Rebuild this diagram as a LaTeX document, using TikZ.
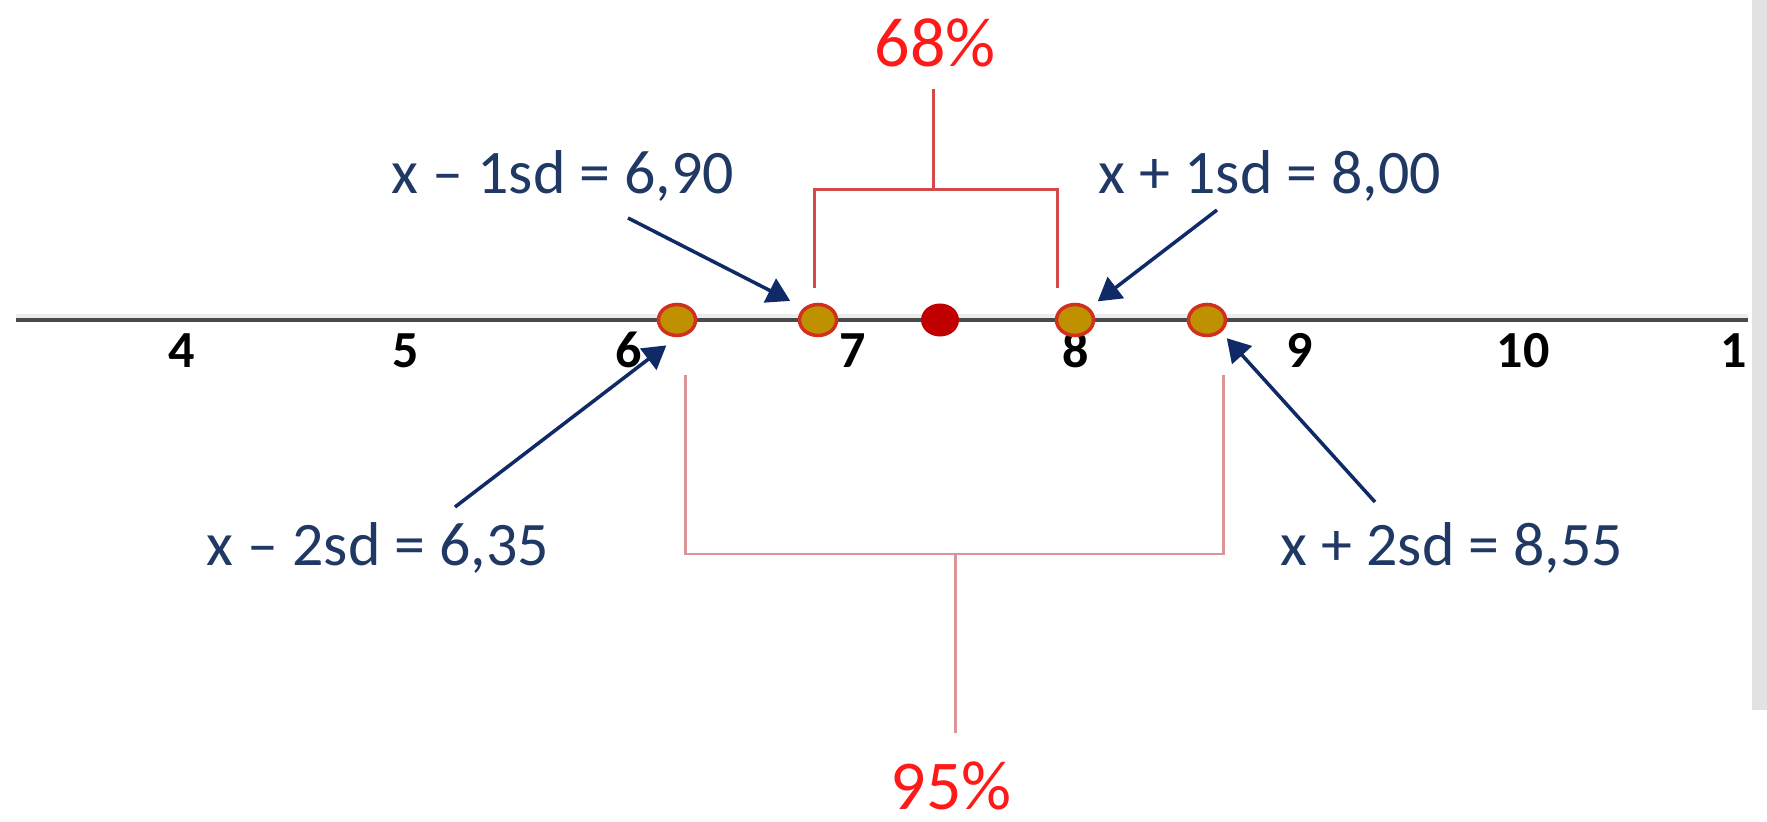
\documentclass[tikz,border=0pt]{standalone}
\usepackage{fontspec}
\setmainfont{Carlito}
\usepackage{tikz}
\usetikzlibrary{arrows.meta,shapes.geometric}
\definecolor{AxisDark}{HTML}{4A4A4A}
\definecolor{AxisShade}{HTML}{ECECEC}
\definecolor{DotGold}{HTML}{BF9000}
\definecolor{DotRim}{HTML}{D2301E}
\definecolor{MeanRed}{HTML}{C00000}
\definecolor{LabelNavy}{HTML}{1F3864}
\definecolor{ArrowNavy}{HTML}{0F2A66}
\definecolor{BracketRed}{HTML}{D24A4A}
\definecolor{BracketPink}{HTML}{DA9598}
\definecolor{PctRed}{HTML}{FF1A1A}
\definecolor{SideGray}{HTML}{E2E2E2}

\begin{document}
\begin{tikzpicture}[
    x=0.01cm, y=-0.01cm,
    golddot/.style={ellipse, draw=DotRim, fill=DotGold, line width=1pt,
      inner sep=0pt, minimum width=0.37cm, minimum height=0.31cm},
    meandot/.style={ellipse, fill=MeanRed, inner sep=0pt,
      minimum width=0.38cm, minimum height=0.33cm},
    sdlabel/.style={text=LabelNavy, anchor=base, inner sep=0pt,
      font=\fontsize{17.6}{20}\selectfont},
    ticklabel/.style={anchor=base, inner sep=0pt,
      font=\fontsize{14.8}{17}\selectfont\bfseries},
    pctlabel/.style={text=PctRed, anchor=base, inner sep=0pt,
      font=\fontsize{19.9}{23}\selectfont},
    sdarrow/.style={draw=ArrowNavy, line width=1pt,
      -{Triangle[length=6.5pt,width=7.5pt]}},
    bracket/.style={line width=0.85pt}
  ]
    \useasboundingbox (0,0) rectangle (1767,822);
    \fill[SideGray] (1752,0) rectangle (1767,710);

    % number line
    \coordinate (axL) at (16,320);
    \coordinate (axR) at (1748,320);
    \draw[AxisShade, line width=1.1pt] ([yshift=0.04cm]axL) -- ([yshift=0.04cm]axR);
    \draw[AxisDark, line width=1.1pt] (axL) -- (axR);
    \begin{scope}
      \clip (0,0) rectangle (1748,822);
      \foreach \v in {4,...,11}
        \node[ticklabel] (t\v) at ({182+223.5*(\v-4)},368) {\v};
    \end{scope}

    % brackets
    \draw[bracket, BracketRed] (814,288) |- (1057,190) -- (1057,288)
      (933,190) -- (933,89);
    \draw[bracket, BracketPink] (685,375) |- (1223,554) -- (1223,375)
      (955,554) -- (955,733);
    \node[pctlabel] (p68) at (935,67) {68\%};
    \node[pctlabel] (p95) at (951,809) {95\%};

    % mean and sd points
    \node[golddot] (d1) at (677,320) {};
    \node[golddot] (d2) at (818,320) {};
    \node[meandot] (d3) at (940,320) {};
    \node[golddot] (d4) at (1075,320) {};
    \node[golddot] (d5) at (1207,320) {};

    % labels and arrows
    \node[sdlabel] (lm1) at (563,194) {x – 1sd = 6,90};
    \node[sdlabel] (lp1) at (1270,194) {x + 1sd = 8,00};
    \node[sdlabel] (lm2) at (378,566) {x – 2sd = 6,35};
    \node[sdlabel] (lp2) at (1452,566) {x + 2sd = 8,55};
    \coordinate (am1) at (628,218);
    \coordinate (ap1) at (1217,210);
    \coordinate (am2) at (455,507);
    \coordinate (ap2) at (1375,502);
    \draw[sdarrow, shorten >=4.3pt] (am1) -- (d2.north west);
    \draw[sdarrow, shorten >=3pt] (ap1) -- (d4.north east);
    \draw[sdarrow, shorten >=3.8pt] (am2) -- (d1.south);
    \draw[sdarrow, shorten >=2.3pt] (ap2) -- (d5.south east);
\end{tikzpicture}
\end{document}
